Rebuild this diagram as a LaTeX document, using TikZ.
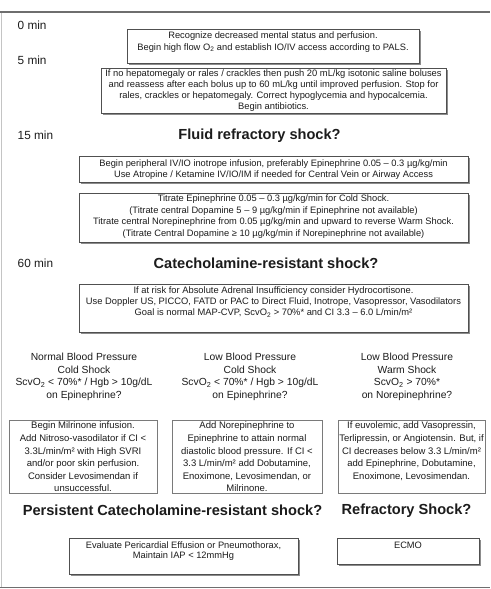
\documentclass[tikz,border=0pt]{standalone}
\usepackage{fontspec}
\setmainfont{Liberation Sans}
\usetikzlibrary{shadows}
\definecolor{framec}{HTML}{6E6E6E}
\definecolor{sidec}{HTML}{C4C4C4}
\definecolor{boxline}{HTML}{505050}
\definecolor{pline}{HTML}{7A7A7A}
\definecolor{shad}{HTML}{8C8C8C}
\definecolor{txt}{HTML}{1C1C1C}
\tikzset{
  sbox/.style={draw=boxline, line width=0.8pt, fill=white, rectangle, inner sep=0pt,
    drop shadow={shadow xshift=1.8pt, shadow yshift=-1.8pt, fill=shad, opacity=1}},
  pbox/.style={draw=pline, line width=0.7pt, fill=white, rectangle, inner sep=0pt},
  btxt/.style={align=center, text=txt, inner sep=0pt, anchor=north},
  tlabel/.style={anchor=west, text=txt, inner sep=0pt, font=\fontsize{11.8}{14}\selectfont},
  title/.style={text=txt, inner sep=0pt, font=\fontsize{14.6}{17}\selectfont\bfseries},
  coltxt/.style={align=center, text=txt, inner sep=0pt, anchor=north, font=\fontsize{10.3}{12.5}\selectfont}
}
\newcommand{\sub}[1]{\textsubscript{#1}}
\begin{document}
\begin{tikzpicture}[x=1pt,y=-1pt]
\useasboundingbox (0,0) rectangle (490,589);
\fill[white] (0,0) rectangle (490,589);
% frame
\coordinate (ftl) at (0,12);
\coordinate (ftr) at (490,12);
\coordinate (fbl) at (0,587.5);
\coordinate (fbr) at (490,587.5);
\coordinate (fsl) at (1,12);
\coordinate (fsb) at (1,587);
\draw[sidec, line width=0.9pt] (fsl) -- (fsb);
\draw[framec, line width=1.3pt] (ftl) -- (ftr);
\draw[framec, line width=1.3pt] (fbl) -- (fbr);

% time labels
\node[tlabel] (m0) at (17.5,25.7) {0 min};
\node[tlabel] (m5) at (17.5,60.5) {5 min};
\node[tlabel] (m15) at (17.5,135) {15 min};
\node[tlabel] (m60) at (17.5,263) {60 min};

% box 1
\node[sbox, minimum width=292pt, minimum height=34pt] (b1) at (273,46) {};
\node[btxt, font=\fontsize{9.3}{12}\selectfont] (t1) at ([yshift=-2.5pt]b1.north)
 {Recognize decreased mental status and perfusion.\\
  Begin high flow O\sub{2} and establish IO/IV access according to PALS.};

% box 2
\node[sbox, minimum width=345pt, minimum height=45pt] (b2) at (273.5,90.5) {};
\node[btxt, font=\fontsize{9.35}{10.7}\selectfont] (t2) at ([yshift=-2.4pt]b2.north)
 {If no hepatomegaly or rales / crackles then push 20 mL/kg isotonic saline boluses\\
  and reassess after each bolus up to 60 mL/kg until improved perfusion. Stop for\\
  rales, crackles or hepatomegaly. Correct hypoglycemia and hypocalcemia.\\
  Begin antibiotics.};

\node[title] (fr) at (259.5,135.5) {Fluid refractory shock?};

% box 3
\node[sbox, minimum width=389pt, minimum height=26pt] (b3) at (273.5,169) {};
\node[btxt, font=\fontsize{9.3}{10.7}\selectfont] (t3) at ([yshift=-3.8pt]b3.north)
 {Begin peripheral IV/IO inotrope infusion, preferably Epinephrine 0.05 – 0.3 µg/kg/min\\
  Use Atropine / Ketamine IV/IO/IM if needed for Central Vein or Airway Access};

% box 4
\node[sbox, minimum width=389pt, minimum height=49pt] (b4) at (273.5,217.5) {};
\node[btxt, font=\fontsize{9.3}{11.5}\selectfont] (t4) at ([yshift=-2.3pt]b4.north)
 {Titrate Epinephrine 0.05 – 0.3 µg/kg/min for Cold Shock.\\
  (Titrate central Dopamine 5 – 9 µg/kg/min if Epinephrine not available)\\
  Titrate central Norepinephrine from 0.05 µg/kg/min and upward to reverse Warm Shock.\\
  (Titrate Central Dopamine ≥ 10 µg/kg/min if Norepinephrine not available)};

\node[title] (cr) at (266,263.5) {Catecholamine-resistant shock?};

% box 5
\node[sbox, minimum width=389pt, minimum height=48pt] (b5) at (273.5,308) {};
\node[btxt, font=\fontsize{9.35}{11.3}\selectfont] (t5) at ([yshift=-2.5pt]b5.north)
 {If at risk for Absolute Adrenal Insufficiency consider Hydrocortisone.\\
  Use Doppler US, PICCO, FATD or PAC to Direct Fluid, Inotrope, Vasopressor, Vasodilators\\
  Goal is normal MAP-CVP, ScvO\sub{2} > 70\%* and CI 3.3 – 6.0 L/min/m²};

% column headers
\node[coltxt] (c1) at (84,353)
 {Normal Blood Pressure\\Cold Shock\\ScvO\sub{2} < 70\%* / Hgb > 10g/dL\\on Epinephrine?};
\node[coltxt] (c2) at (250,353)
 {Low Blood Pressure\\Cold Shock\\ScvO\sub{2} < 70\%* / Hgb > 10g/dL\\on Epinephrine?};
\node[coltxt] (c3) at (407,353)
 {Low Blood Pressure\\Warm Shock\\ScvO\sub{2} > 70\%*\\on Norepinephrine?};

% three plain boxes
\node[pbox, minimum width=148pt, minimum height=73pt] (pa) at (83,456.5) {};
\node[btxt, font=\fontsize{9.5}{12.6}\selectfont] (ta) at ([yshift=-2.2pt]pa.north)
 {Begin Milrinone infusion.\\Add Nitroso-vasodilator if CI <\\3.3L/min/m² with High SVRI\\
  and/or poor skin perfusion.\\Consider Levosimendan if\\unsuccessful.};
\node[pbox, minimum width=150pt, minimum height=73pt] (pb) at (247,456.5) {};
\node[btxt, font=\fontsize{9.5}{12.6}\selectfont] (tb) at ([yshift=-2.2pt]pb.north)
 {Add Norepinephrine to\\Epinephrine to attain normal\\diastolic blood pressure. If CI <\\
  3.3 L/min/m² add Dobutamine,\\Enoximone, Levosimendan, or\\Milrinone.};
\node[pbox, minimum width=147pt, minimum height=73pt] (pc) at (411.5,456.5) {};
\node[btxt, font=\fontsize{9.5}{12.6}\selectfont] (tc) at ([yshift=-2.2pt]pc.north)
 {If euvolemic, add Vasopressin,\\Terlipressin, or Angiotensin. But, if\\
  CI decreases below 3.3 L/min/m²\\add Epinephrine, Dobutamine,\\Enoximone, Levosimendan.};

\node[title] (pcr) at (172.5,510.5) {Persistent Catecholamine-resistant shock?};
\node[title] (rs) at (406.5,510.5) {Refractory Shock?};

% bottom boxes
\node[sbox, minimum width=229pt, minimum height=36pt] (be) at (183.5,556) {};
\node[btxt, font=\fontsize{9.3}{10}\selectfont] (te) at ([yshift=-4.4pt]be.north)
 {Evaluate Pericardial Effusion or Pneumothorax,\\Maintain IAP < 12mmHg};
\node[sbox, minimum width=142pt, minimum height=26pt] (bm) at (408,551) {};
\node[btxt, font=\fontsize{9.3}{10}\selectfont] (tm) at ([yshift=-4.6pt]bm.north) {ECMO};
\end{tikzpicture}
\end{document}
